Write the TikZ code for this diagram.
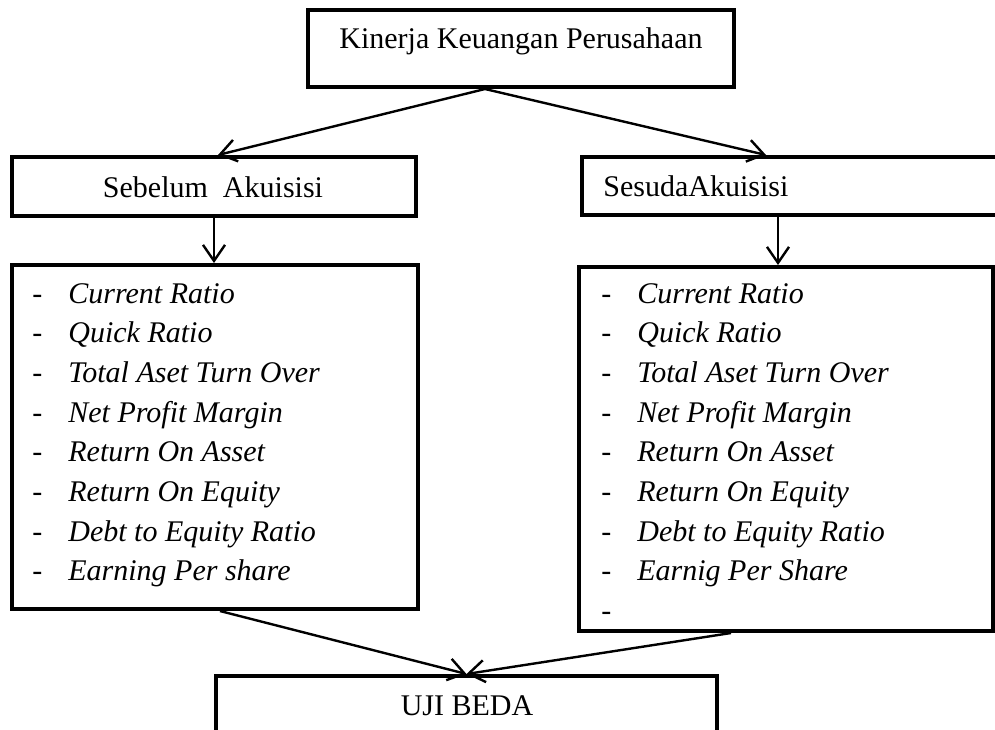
\documentclass[tikz,border=0pt]{standalone}
\usepackage{fontspec}
\setmainfont{Liberation Serif}
\usetikzlibrary{arrows.meta}

\tikzset{
  kotak/.style={draw, line width=2pt, inner sep=0pt},
  teks/.style={font=\fontsize{15}{20}\selectfont, inner sep=0pt, anchor=base},
  butir/.style={font=\fontsize{15}{20}\selectfont\itshape, inner sep=0pt, anchor=base west},
  strip/.style={font=\fontsize{15}{20}\selectfont, inner sep=0pt, anchor=base west},
  panah/.style={->, line width=1.2pt},
}

\begin{document}
\begin{tikzpicture}[x=0.5pt, y=-0.5pt, >={Straight Barb[length=8pt,width=11pt]}]
	\useasboundingbox (0,0) rectangle (995,729);
	% kotak
	\node[kotak, minimum width=213pt, minimum height=38.5pt] (judul) at (521,48.5) {};
	\node[kotak, minimum width=202pt, minimum height=29.5pt] (pre) at (214,186.5) {};
	\node[kotak, minimum width=219pt, minimum height=29pt] (post) at (801,186) {};
	\node[kotak, minimum width=203pt, minimum height=172pt] (preL) at (215,437) {};
	\node[kotak, minimum width=207pt, minimum height=182pt] (postL) at (786,449) {};
	\node[kotak, minimum width=250.5pt, minimum height=47pt] (uji) at (466.5,723) {};
	% teks
	\node[teks] (tjudul) at (521,48) {Kinerja Keuangan Perusahaan};
	\node[teks] (tpre) at (213,197) {Sebelum\ \ Akuisisi};
	\node[teks, anchor=base west] (tpost) at (603,196) {SesudaAkuisisi};
	\node[teks] (tuji) at (467,715) {UJI BEDA};
	% daftar rasio
	\foreach \t [count=\i from 0] in {Current Ratio, Quick Ratio, Total Aset Turn Over, Net Profit Margin, Return On Asset, Return On Equity, Debt to Equity Ratio, Earning Per share} {
		\node[strip] (sa\i) at (32,{303+39.7*\i}) {-};
		\node[butir] (ra\i) at (68,{303+39.7*\i}) {\t};
	}
	\foreach \t [count=\i from 0] in {Current Ratio, Quick Ratio, Total Aset Turn Over, Net Profit Margin, Return On Asset, Return On Equity, Debt to Equity Ratio, Earnig Per Share} {
		\node[strip] (sb\i) at (601,{303+39.7*\i}) {-};
		\node[butir] (rb\i) at (637,{303+39.7*\i}) {\t};
	}
	\node[strip] (sb8) at (601,{303+39.7*8}) {-};
	% panah
	\coordinate (pisah) at ([xshift=-18pt]judul.south);
	\coordinate (turun) at ([xshift=-11.5pt]post.south);
	\draw[panah] (pisah) -- ([xshift=2pt]pre.north);
	\draw[panah] (pisah) -- ([xshift=93pt]post.north west);
	\draw[panah] (pre.south) -- (pre.south |- preL.north);
	\draw[panah] (turun) -- (turun |- postL.north);
	\draw[panah] ([xshift=2.5pt]preL.south) -- (uji.north);
	\draw[panah] ([xshift=77pt]postL.south west) -- (uji.north);
\end{tikzpicture}
\end{document}
